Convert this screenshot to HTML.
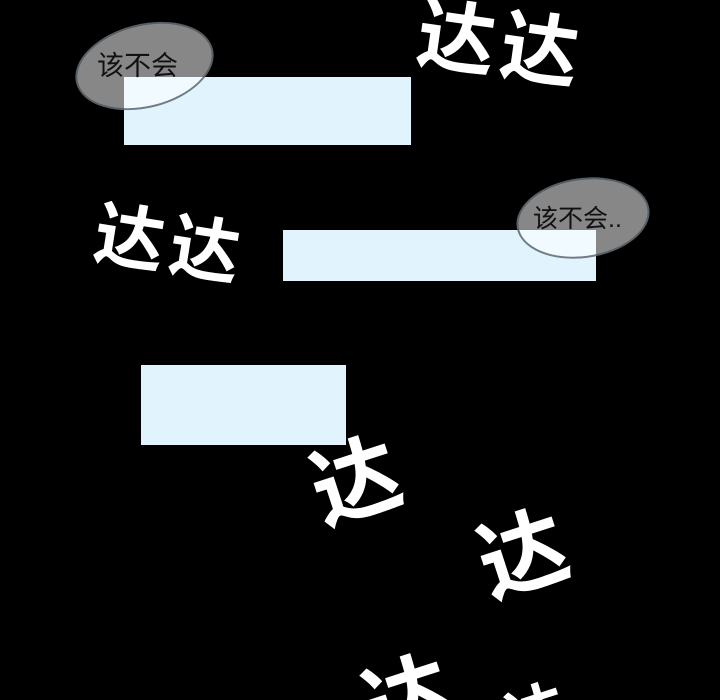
<!DOCTYPE html>
<html><head><meta charset="utf-8"><style>
html,body{margin:0;padding:0;background:#000;width:720px;height:700px;overflow:hidden;}
#c{position:relative;width:720px;height:700px;overflow:hidden;background:#000;font-family:"Liberation Sans","Noto Sans CJK SC",sans-serif;}
.r{position:absolute;background:#e1f4fe;}
.e{position:absolute;border-radius:50%;background:rgba(255,255,255,0.53);border:2px solid rgba(70,80,90,0.75);box-sizing:border-box;}
.t{position:absolute;color:#111;font-size:27px;line-height:1;white-space:nowrap;}
.d{position:absolute;color:#fff;font-family:"Noto Sans CJK SC",sans-serif;font-weight:bold;line-height:1;white-space:nowrap;}
</style></head><body><div id="c">
<div class="r" style="left:124px;top:77px;width:287px;height:68px"></div>
<div class="r" style="left:283px;top:230px;width:313px;height:51px"></div>
<div class="r" style="left:141px;top:365px;width:205px;height:80px"></div>

<div class="e" style="left:74px;top:24px;width:141px;height:84px;transform:rotate(-14deg)"></div>
<div class="t" style="left:97px;top:53px">该不会</div>
<div class="e" style="left:516px;top:178px;width:134px;height:80px;transform:rotate(-8deg)"></div>
<div class="t" style="left:533px;top:207px;font-size:25px">该不会..</div>

<div class="d" style="left:418px;top:0px;font-size:78px;transform:rotate(8deg);letter-spacing:6px">达达</div>
<div class="d" style="left:95px;top:205px;font-size:70px;transform:rotate(9deg);letter-spacing:6px">达达</div>
<div class="d" style="left:310px;top:432px;font-size:88px;transform:rotate(-18deg)">达</div>
<div class="d" style="left:477px;top:505px;font-size:88px;transform:rotate(-18deg)">达</div>
<div class="d" style="left:362px;top:650px;font-size:88px;transform:rotate(-18deg)">达</div>
<div class="d" style="left:505px;top:680px;font-size:60px;transform:rotate(-18deg)">达</div>
</div></body></html>
